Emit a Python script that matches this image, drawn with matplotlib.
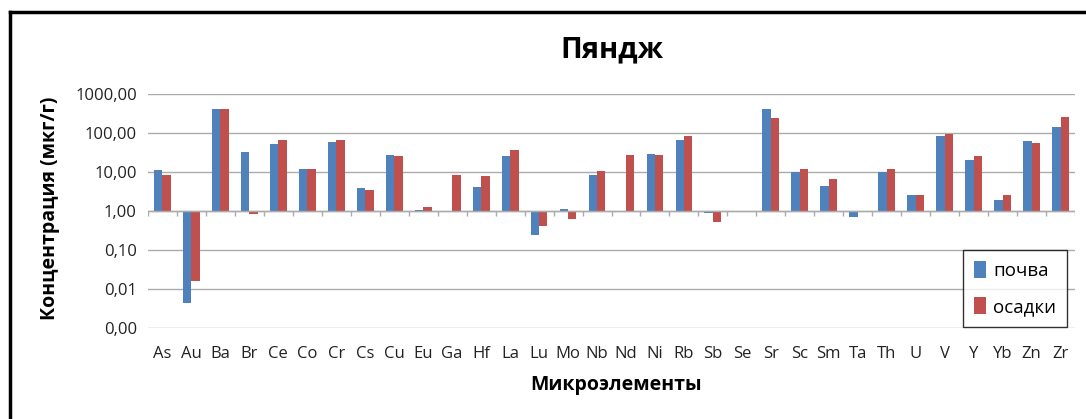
import numpy as np
import matplotlib
matplotlib.use('Agg')
import matplotlib.pyplot as plt
from matplotlib.lines import Line2D
from matplotlib.ticker import FixedLocator, FuncFormatter, NullLocator

plt.rcParams['font.family'] = ['Open Sans', 'DejaVu Sans']

# данные с графика (мкг/г), nan = нет значения
elements = ['As', 'Au', 'Ba', 'Br', 'Ce', 'Co', 'Cr', 'Cs', 'Cu', 'Eu', 'Ga', 'Hf',
            'La', 'Lu', 'Mo', 'Nb', 'Nd', 'Ni', 'Rb', 'Sb', 'Se', 'Sr', 'Sc', 'Sm',
            'Ta', 'Th', 'U', 'V', 'Y', 'Yb', 'Zn', 'Zr']
pochva = [11.4, 0.0044, 406, 32.3, 51.7, 12.1, 58.2, 4.0, 27.0, 1.08, np.nan, 4.2,
          25.0, 0.24, 1.15, 8.5, np.nan, 29.8, 66.7, 0.87, np.nan, 406, 9.9, 4.3,
          0.72, 9.9, 2.57, 82.8, 20.2, 1.91, 64.2, 141]
osadki = [8.2, 0.0156, 423, 0.84, 66.7, 12.1, 66.7, 3.4, 25.0, 1.29, 8.5, 7.7,
          37.0, 0.42, 0.61, 10.7, 27.0, 27.0, 82.8, 0.53, np.nan, 249, 11.9, 6.6,
          np.nan, 11.9, 2.57, 96.9, 26.0, 2.62, 55.9, 259]
ytick_vals = [0.001, 0.01, 0.1, 1, 10, 100, 1000]

blue = '#4F81BD'
red = '#C0504D'

fig = plt.figure(figsize=(10.86, 4.19), dpi=100)
ax = fig.add_axes([148 / 1086, 1 - 328 / 419, (1075 - 148) / 1086, (328 - 94) / 419])

x = np.arange(len(elements))
w = 0.29
p = np.array(pochva)
o = np.array(osadki)
ax.bar(x - w / 2, p - 1, bottom=1, width=w, color=blue, label='почва', zorder=3)
ax.bar(x + w / 2, o - 1, bottom=1, width=w, color=red, label='осадки', zorder=3)

ax.set_yscale('log')
ax.set_ylim(0.001, 1000)
ax.set_xlim(-0.5, len(elements) - 0.5)
ax.yaxis.set_major_locator(FixedLocator(ytick_vals))
ax.yaxis.set_minor_locator(NullLocator())
ax.yaxis.set_major_formatter(FuncFormatter(lambda v, pos: f'{v:.2f}'.replace('.', ',')))
ax.grid(axis='y', color='#ABABAB', lw=1, zorder=0)
for s in ax.spines.values():
    s.set_visible(False)

# ось категорий пересекает в 1,00
ax.axhline(1, color='#ABABAB', lw=1, zorder=4)
ax.vlines(np.arange(len(elements) + 1) - 0.5, 10 ** -0.13, 1, color='#ABABAB', lw=1, zorder=4)

ax.set_xticks(x)
ax.set_xticklabels(elements)
ax.tick_params(axis='x', length=0, pad=13, labelsize=12, colors='#222222')
ax.tick_params(axis='y', length=0, pad=8, labelsize=12, colors='#222222')

fig.text(612 / 1086, 1 - 50 / 419, 'Пяндж', ha='center', va='center',
         fontsize=21, fontweight='bold')
fig.text(616 / 1086, 1 - 385 / 419, 'Микроэлементы', ha='center', va='center',
         fontsize=14, fontweight='bold')
fig.text(50 / 1086, 1 - 208 / 419, 'Концентрация (мкг/г)', ha='center', va='center',
         rotation=90, fontsize=14, fontweight='bold')

leg = fig.legend(loc='upper left', bbox_to_anchor=(963 / 1086, 1 - 250 / 419),
                 borderaxespad=0, fontsize=13.5, frameon=True, fancybox=False,
                 edgecolor='black', handlelength=0.6, handleheight=1.0,
                 handletextpad=0.4, labelspacing=0.9, borderpad=0.6)
leg.get_frame().set_linewidth(1)

# чёрная рамка слева и сверху
fig.add_artist(Line2D([10 / 1086, 10 / 1086], [0, 1 - 12 / 419], color='black', lw=2.5,
                      transform=fig.transFigure))
fig.add_artist(Line2D([10 / 1086, 1], [1 - 12 / 419, 1 - 12 / 419], color='black', lw=2.5,
                      transform=fig.transFigure))

fig.savefig('out.png', dpi=100)
